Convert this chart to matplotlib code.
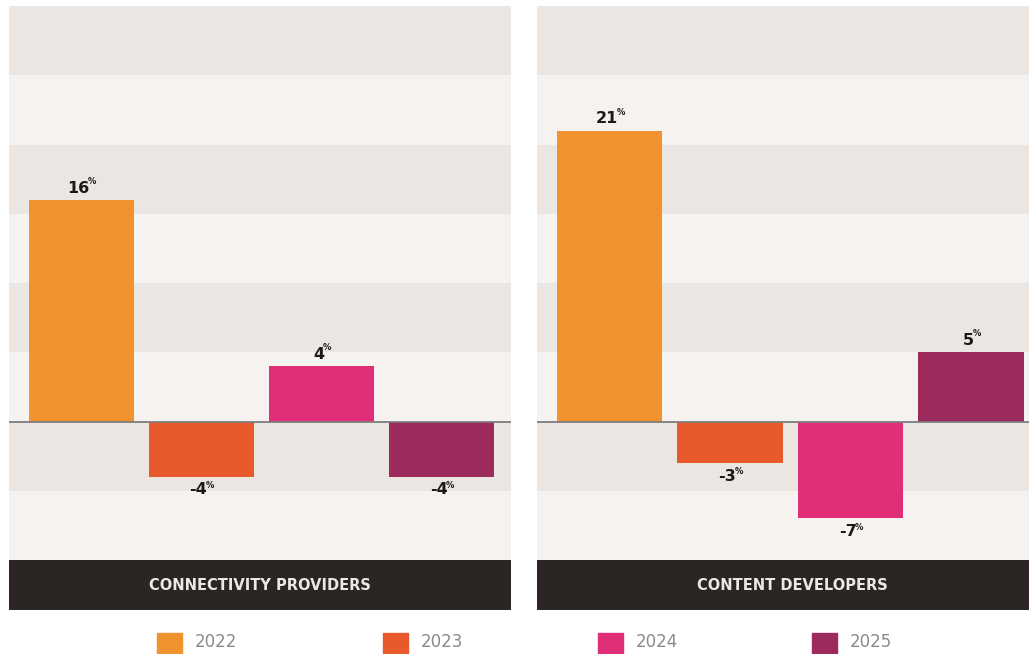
import matplotlib.pyplot as plt
from matplotlib.patches import Rectangle
import numpy as np

years = ['2022', '2023', '2024', '2025']
colors = ['#F0922E', '#E8592C', '#E02E78', '#9C2A5C']
panels = ['CONNECTIVITY PROVIDERS', 'CONTENT DEVELOPERS']
connectivity = [16, -4, 4, -4]
content = [21, -3, -7, 5]
values = [connectivity, content]

W, H = 1029, 654
fig = plt.figure(figsize=(W / 100, H / 100), dpi=100)
fig.patch.set_facecolor('white')
renderer = fig.canvas.get_renderer()

# panel boxes in pixels: (left, right)
boxes = [(9, 511), (537, 1029)]
xlims = [(-0.6, 3.58), (-0.6, 3.48)]

for k in range(2):
    x0, x1 = boxes[k]
    ax = fig.add_axes([x0 / W, (H - 560) / H, (x1 - x0) / W, 554 / H])
    # alternating background bands, 5 points each
    for i, lo in enumerate(np.arange(-10, 30, 5)):
        ax.axhspan(lo, lo + 5, color='#F6F2EF' if i % 2 == 0 else '#ECE6E3', lw=0, zorder=0)
    x = np.arange(len(years))
    ax.bar(x, values[k], width=0.875, color=colors, zorder=2)
    ax.axhline(0, color='#7d7d7d', lw=1.3, zorder=3)
    for xi, v in zip(x, values[k]):
        dy, va = (3, 'bottom') if v >= 0 else (-4, 'top')
        t = ax.annotate('%d' % v, (xi, v), xytext=(-2, dy), textcoords='offset points',
                        ha='center', va=va, fontsize=11.5, fontweight='heavy', color='#1a1a1a')
        wpt = t.get_window_extent(renderer).width * 0.72
        # small raised percent sign
        ax.annotate('%', (xi, v), xytext=(-2 + wpt / 2 - 1, dy + (7 if v >= 0 else 1)),
                    textcoords='offset points', ha='left', va=va, fontsize=6,
                    fontweight='bold', color='#1a1a1a')
    ax.set_xlim(*xlims[k])
    ax.set_ylim(-10, 30)
    ax.axis('off')

    # dark category strip
    cax = fig.add_axes([x0 / W, (H - 610) / H, (x1 - x0) / W, 50 / H])
    cax.set_facecolor('#2B2624')
    cax.set_xticks([])
    cax.set_yticks([])
    for s in cax.spines.values():
        s.set_visible(False)
    cax.text(0.5 if k == 0 else 0.52, 0.5, panels[k], ha='center', va='center',
             color='#ECE8E4', fontsize=10.5, fontweight='bold', transform=cax.transAxes)

# legend row
leg_x = [157, 383, 598, 812]
for i, yr in enumerate(years):
    fig.patches.append(Rectangle((leg_x[i] / W, (H - 653) / H), 25 / W, 20 / H,
                                 transform=fig.transFigure, color=colors[i]))
    fig.text((leg_x[i] + 38) / W, (H - 642) / H, yr, ha='left', va='center',
             fontsize=12, color='#8a8a8a')

fig.savefig('out.png', dpi=100)
